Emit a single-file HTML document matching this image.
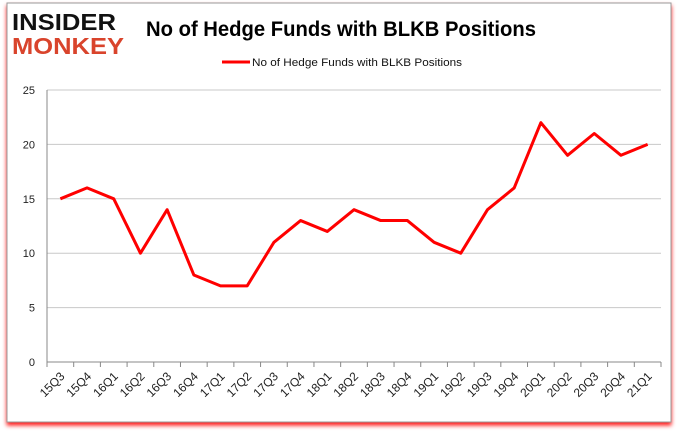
<!DOCTYPE html>
<html><head><meta charset="utf-8"><style>
body{margin:0;background:#fff;}
svg text{font-family:"Liberation Sans",sans-serif;}
</style></head><body>
<svg width="680" height="433">
<defs><filter id="sh" x="-5%" y="-5%" width="110%" height="115%"><feDropShadow dx="0" dy="3" stdDeviation="2" flood-color="#f00" flood-opacity="0.9"/></filter></defs>
<rect x="7" y="3" width="664" height="419" fill="#fff" stroke="#999" filter="url(#sh)"/>
<g>
<text x="12" y="30" font-size="23" font-weight="bold" fill="#111" textLength="104" lengthAdjust="spacingAndGlyphs">INSIDER</text>
<text x="12" y="54" font-size="23" font-weight="bold" fill="#d9442c" textLength="112" lengthAdjust="spacingAndGlyphs">MONKEY</text>
</g>
<text x="146" y="36" font-size="21" font-weight="bold" fill="#000" textLength="390" lengthAdjust="spacingAndGlyphs">No of Hedge Funds with BLKB Positions</text>
<line x1="222" y1="62" x2="250" y2="62" stroke="#f00" stroke-width="3"/>
<text x="252" y="66" font-size="11" fill="#111" textLength="210" lengthAdjust="spacingAndGlyphs">No of Hedge Funds with BLKB Positions</text>
<g id="grid"></g><g id="axes"></g><g id="series"></g>
</svg>
<script>
const categories=["15Q3","15Q4","16Q1","16Q2","16Q3","16Q4","17Q1","17Q2","17Q3","17Q4","18Q1","18Q2","18Q3","18Q4","19Q1","19Q2","19Q3","19Q4","20Q1","20Q2","20Q3","20Q4","21Q1"];
const values=[15,16,15,10,14,8,7,7,11,13,12,14,13,13,11,10,14,16,22,19,21,19,20];
const yTicks=[0,5,10,15,20,25];
const NS="http://www.w3.org/2000/svg";
const X0=47,X1=661,Y0=362,Y1=90,YMAX=25;
const band=(X1-X0)/categories.length;
const x=i=>X0+band*(i+0.5);
const y=v=>Y0-(v/YMAX)*(Y0-Y1);
function mk(t,a,p){const e=document.createElementNS(NS,t);for(const k in a)e.setAttribute(k,a[k]);p.appendChild(e);return e;}
const g=document.getElementById('grid'),ax=document.getElementById('axes'),s=document.getElementById('series');
yTicks.forEach(v=>{
 if(v>0){const l=mk('line',{x1:X0,x2:X1,y1:y(v),y2:y(v),stroke:'#c8c8c8','stroke-width':1},g);
 
 }
 const t=mk('text',{x:X0-12,y:y(v)+4,'font-size':11,'text-anchor':'end',fill:'#222'},ax);t.textContent=v;
 
 
});
const xa=mk('line',{x1:X0,x2:X1,y1:Y0,y2:Y0,stroke:'#888'},ax);


const ya=mk('line',{x1:X0,x2:X0,y1:Y1,y2:Y0,stroke:'#888'},ax);


for(let i=0;i<=categories.length;i++){mk('line',{x1:X0+band*i,x2:X0+band*i,y1:Y0,y2:Y0+5,stroke:'#888'},ax);}
categories.forEach((c,i)=>{
 const cx=x(i)+5,cy=Y0+15;
 const t=mk('text',{x:cx,y:cy,'font-size':12,'text-anchor':'end',fill:'#222',transform:`rotate(-45 ${cx} ${cy})`},ax);t.textContent=c;
 
 
});
const p=mk('polyline',{points:values.map((v,i)=>x(i)+','+y(v)).join(' '),fill:'none',stroke:'#f00','stroke-width':3,'stroke-linejoin':'round'},s);


</script>
</body></html>
